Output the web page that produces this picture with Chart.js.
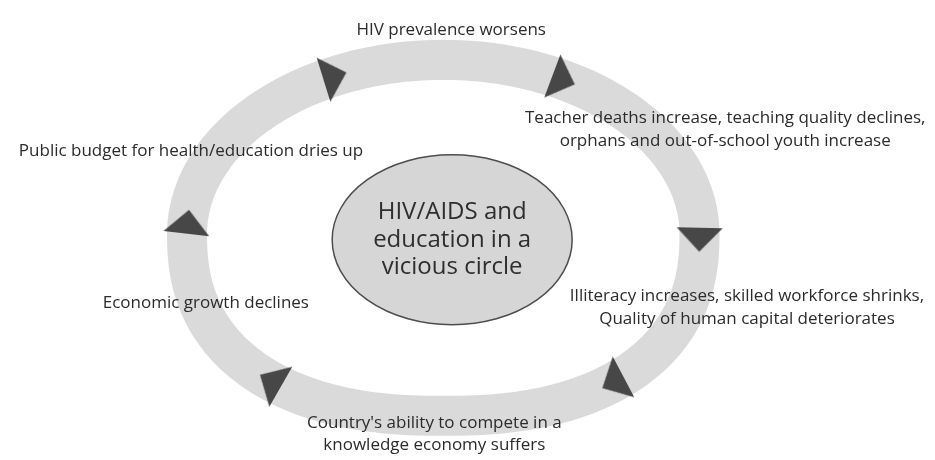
<!DOCTYPE html>
<html>
<head>
<meta charset="utf-8">
<script src="https://cdn.jsdelivr.net/npm/chart.js@4.4.1/dist/chart.umd.min.js"></script>
<style>
  html, body { margin: 0; padding: 0; background: #fff; }
  #wrap { width: 935px; height: 460px; }
</style>
</head>
<body>
<div id="wrap"><canvas id="cycle"></canvas></div>
<script>
// stages of the cycle, clockwise from the top
var stages = [
  ['HIV prevalence worsens'],
  ['Teacher deaths increase, teaching quality declines,', 'orphans and out-of-school youth increase'],
  ['Illiteracy increases, skilled workforce shrinks,', 'Quality of human capital deteriorates'],
  ["Country's ability to compete in a", 'knowledge economy suffers'],
  ['Economic growth declines'],
  ['Public budget for health/education dries up']
];
var centreText = ['HIV/AIDS and', 'education in a', 'vicious circle'];
// where each arrow sits on the ring, in degrees (0 = right, 90 = top)
var arrowAngles = [115, 62, -1, -52, 231, 176];

// layout, in pixels
var ring = { cx: 443, cy: 234, rx: 259, ryTop: 178, ryBottom: 186, width: 40 };
var hub = { cx: 452, cy: 240, rx: 120, ry: 85 };
var labelPos = [[451, 26], [728, 116], [750, 298], [434, 427], [203, 305], [188, 149]];

function ringPoint(deg) {
    var t = deg * Math.PI / 180, c = Math.cos(t), s = Math.sin(t);
    var low = s < 0; // lower half of the loop is a bit fuller
    var p = low ? 0.85 : 1;
    var ry = low ? ring.ryBottom : ring.ryTop;
    return {
        x: ring.cx + ring.rx * Math.sign(c) * Math.pow(Math.abs(c), p),
        y: ring.cy - ry * Math.sign(s) * Math.pow(Math.abs(s), p)
    };
}

// arrow head, pointing up before rotation
var head = document.createElement('canvas');
head.width = 46; head.height = 24;
(function() {
    var g = head.getContext('2d');
    g.fillStyle = '#474747';
    g.beginPath();
    g.moveTo(0, 24); g.lineTo(46, 24); g.lineTo(23, 0);
    g.closePath();
    g.fill();
})();

var cyclePlugin = {
    id: 'cycle',
    beforeDatasetsDraw: function(chart) {
        var ctx = chart.ctx, sx = chart.scales.x, sy = chart.scales.y;
        ctx.save();
        ctx.strokeStyle = '#dadada';
        ctx.lineWidth = ring.width;
        ctx.beginPath();
        for (var a = 0; a <= 360; a += 2) {
            var p = ringPoint(a);
            var px = sx.getPixelForValue(p.x), py = sy.getPixelForValue(p.y);
            if (a === 0) { ctx.moveTo(px, py); } else { ctx.lineTo(px, py); }
        }
        ctx.closePath();
        ctx.stroke();

        // centre bubble
        ctx.beginPath();
        ctx.ellipse(sx.getPixelForValue(hub.cx), sy.getPixelForValue(hub.cy),
            hub.rx, hub.ry, 0, 0, Math.PI * 2);
        ctx.fillStyle = '#d6d6d6';
        ctx.fill();
        ctx.lineWidth = 1.5;
        ctx.strokeStyle = '#4d4d4d';
        ctx.stroke();

        ctx.fillStyle = '#2e2e2e';
        ctx.textAlign = 'center';
        ctx.textBaseline = 'middle';
        ctx.font = '24px "Open Sans"';
        centreText.forEach(function(line, i) {
            ctx.fillText(line, sx.getPixelForValue(hub.cx), sy.getPixelForValue(hub.cy - 28 + i * 28));
        });
        ctx.restore();
    },
    afterDatasetsDraw: function(chart) {
        var ctx = chart.ctx, sx = chart.scales.x, sy = chart.scales.y;
        ctx.save();
        ctx.fillStyle = '#2b2b2b';
        ctx.textAlign = 'center';
        ctx.textBaseline = 'middle';
        ctx.font = '17px "Open Sans"';
        stages.forEach(function(lines, i) {
            lines.forEach(function(line, j) {
                ctx.fillText(line, sx.getPixelForValue(labelPos[i][0]),
                    sy.getPixelForValue(labelPos[i][1] + j * 23));
            });
        });
        ctx.restore();
    }
};

new Chart(document.getElementById('cycle'), {
    type: 'scatter',
    data: {
        datasets: [{
            label: 'arrows',
            data: arrowAngles.map(ringPoint),
            pointStyle: head,
            rotation: function(c) {
                if (c.dataIndex === undefined) { return 0; }
                var a = arrowAngles[c.dataIndex];
                var p1 = ringPoint(a), p2 = ringPoint(a - 1);
                return Math.atan2(p2.x - p1.x, -(p2.y - p1.y)) * 180 / Math.PI;
            }
        }]
    },
    options: {
        responsive: true,
        maintainAspectRatio: false,
        animation: false,
        events: [],
        layout: { padding: 0 },
        scales: {
            x: { type: 'linear', min: 0, max: 935, display: false },
            y: { type: 'linear', min: 0, max: 460, reverse: true, display: false }
        },
        plugins: {
            legend: { display: false },
            tooltip: { enabled: false }
        }
    },
    plugins: [cyclePlugin]
});
</script>
</body>
</html>
